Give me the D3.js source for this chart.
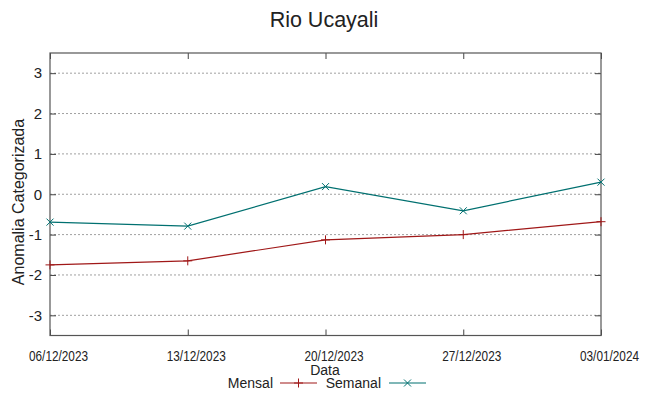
<!DOCTYPE html>
<html>
<head>
<meta charset="utf-8">
<script src="https://cdn.jsdelivr.net/npm/d3@7"></script>
<style>
  body { margin: 0; background: #fff; }
  text { font-family: "Liberation Sans", Arial, sans-serif; fill: #222; }
</style>
</head>
<body>
<div id="chart"></div>
<script>
// data
var dates = ["06/12/2023", "13/12/2023", "20/12/2023", "27/12/2023", "03/01/2024"];
var mensal = [-1.75, -1.65, -1.13, -1.0, -0.68];
var semanal = [-0.69, -0.79, 0.19, -0.41, 0.3];
var yTicks = [-3, -2, -1, 0, 1, 2, 3];

var width = 649, height = 396;
var margin = { top: 53, right: 48, bottom: 60.5, left: 50 };
var parse = d3.timeParse("%d/%m/%Y");
var fmt = d3.timeFormat("%d/%m/%Y");

var svg = d3.select("#chart").append("svg")
    .attr("width", width).attr("height", height);

var x = d3.scaleTime()
    .domain(d3.extent(dates, function(d){ return parse(d); }))
    .range([margin.left, width - margin.right]);
var y = d3.scaleLinear()
    .domain([-3.5, 3.5])
    .range([height - margin.bottom, margin.top]);

// grid
svg.append("g").selectAll("line")
    .data(yTicks).enter().append("line")
    .attr("x1", margin.left).attr("x2", width - margin.right)
    .attr("y1", function(d){ return y(d); }).attr("y2", function(d){ return y(d); })
    .attr("stroke", "#a0a0a0").attr("stroke-width", 1)
    .attr("stroke-dasharray", "2,2");

// axes
var tickDates = dates.map(function(d){ return parse(d); });
svg.append("g")
    .attr("transform", "translate(0," + y(-3.5) + ")")
    .call(d3.axisBottom(x).tickValues(tickDates).tickFormat(fmt).tickSize(-6).tickPadding(14.5))
    .call(function(g){
      g.select(".domain").remove();
      g.selectAll("line").attr("stroke", "#444");
      // narrow-looking labels, shifted right like the original
      g.selectAll("text").attr("font-size", 15).attr("dx", 8)
        .attr("textLength", 59).attr("lengthAdjust", "spacingAndGlyphs")
        .attr("font-family", "Liberation Sans, Arial, sans-serif").attr("fill", "#222");
    });
svg.append("g")
    .attr("transform", "translate(0," + y(3.5) + ")")
    .call(d3.axisTop(x).tickValues(tickDates).tickFormat("").tickSize(-6))
    .call(function(g){ g.select(".domain").remove(); g.selectAll("line").attr("stroke", "#444"); });
svg.append("g")
    .attr("transform", "translate(" + margin.left + ",0)")
    .call(d3.axisLeft(y).tickValues(yTicks).tickFormat(function(d){ return String(d); }).tickSize(-6).tickPadding(8))
    .call(function(g){
      g.select(".domain").remove();
      g.selectAll("line").attr("stroke", "#444");
      g.selectAll("text").attr("font-size", 15).attr("font-family", "Liberation Sans, Arial, sans-serif").attr("fill", "#222");
    });
svg.append("g")
    .attr("transform", "translate(" + (width - margin.right) + ",0)")
    .call(d3.axisRight(y).tickValues(yTicks).tickFormat("").tickSize(-6))
    .call(function(g){ g.select(".domain").remove(); g.selectAll("line").attr("stroke", "#444"); });

// frame
svg.append("rect")
    .attr("x", margin.left).attr("y", margin.top)
    .attr("width", width - margin.left - margin.right)
    .attr("height", height - margin.top - margin.bottom)
    .attr("fill", "none").attr("stroke", "#555").attr("stroke-width", 1.2);

// series
var series = [
  { name: "Mensal", values: mensal, color: "#a01818", marker: "plus" },
  { name: "Semanal", values: semanal, color: "#007070", marker: "cross" }
];
var line = d3.line()
    .x(function(d, i){ return x(parse(dates[i])); })
    .y(function(d){ return y(d); });

function marker(g, type, cx, cy, color) {
  var s = 4.5;
  if (type == "plus") {
    g.append("path").attr("d", "M" + (cx - s) + "," + cy + "H" + (cx + s) + "M" + cx + "," + (cy - s) + "V" + (cy + s))
      .attr("stroke", color).attr("stroke-width", 1).attr("fill", "none");
  } else {
    s = 3.5;
    g.append("path").attr("d", "M" + (cx - s) + "," + (cy - s) + "L" + (cx + s) + "," + (cy + s) + "M" + (cx - s) + "," + (cy + s) + "L" + (cx + s) + "," + (cy - s))
      .attr("stroke", color).attr("stroke-width", 1).attr("fill", "none");
  }
}

series.forEach(function(s){
  svg.append("path").datum(s.values)
    .attr("d", line).attr("fill", "none")
    .attr("stroke", s.color).attr("stroke-width", 1.2);
  var g = svg.append("g");
  s.values.forEach(function(v, i){
    marker(g, s.marker, x(parse(dates[i])), y(v), s.color);
  });
});

// title and labels
svg.append("text")
    .attr("x", 324).attr("y", 27)
    .attr("text-anchor", "middle").attr("font-size", 21.5)
    .text("Rio Ucayali");
svg.append("text")
    .attr("transform", "translate(24," + 202 + ") rotate(-90)")
    .attr("text-anchor", "middle").attr("font-size", 16)
    .text("Anomalia Categorizada");
svg.append("text")
    .attr("x", 325).attr("y", 375)
    .attr("text-anchor", "middle").attr("font-size", 14)
    .text("Data");

// legend
var legend = [
  { s: series[0], textX: 273, lineX: 280 },
  { s: series[1], textX: 381, lineX: 389 }
];
legend.forEach(function(l){
  svg.append("text")
    .attr("x", l.textX).attr("y", 388)
    .attr("text-anchor", "end").attr("font-size", 14)
    .text(l.s.name);
  svg.append("line")
    .attr("x1", l.lineX).attr("x2", l.lineX + 37)
    .attr("y1", 383).attr("y2", 383)
    .attr("stroke", l.s.color).attr("stroke-width", 1.2);
  marker(svg, l.s.marker, l.lineX + 18.5, 383, l.s.color);
});
</script>
</body>
</html>
